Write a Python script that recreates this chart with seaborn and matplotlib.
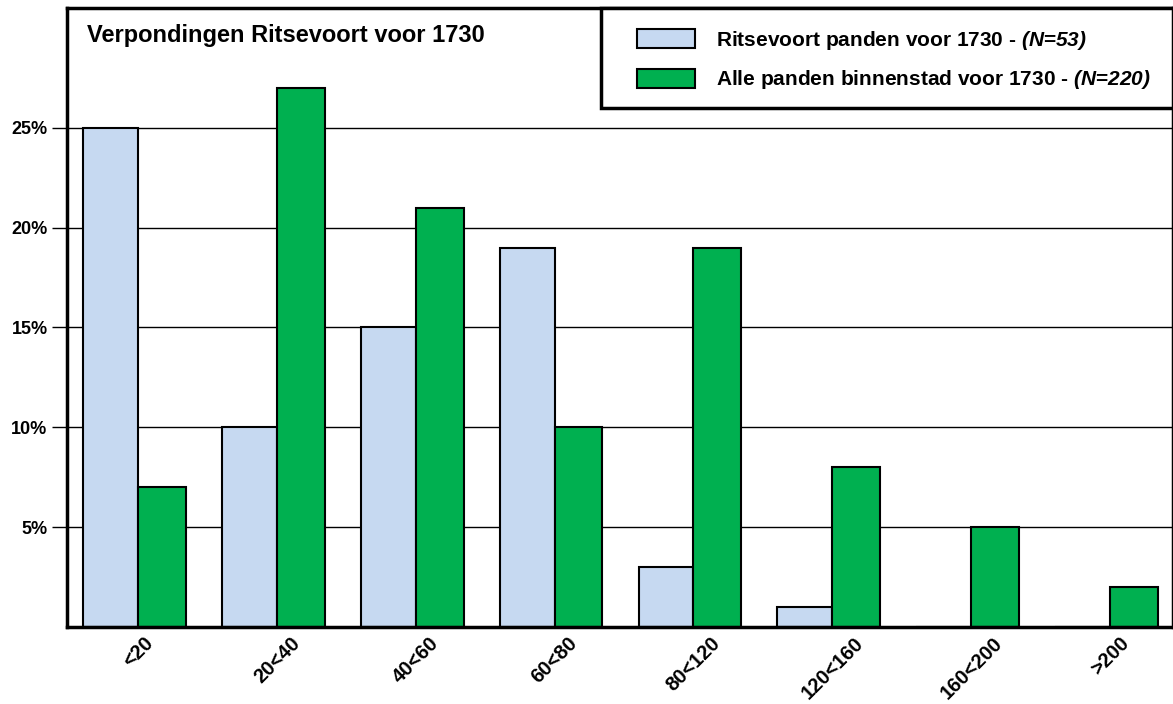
import pandas as pd
import numpy as np
import matplotlib.pyplot as plt
import seaborn as sns
from matplotlib.patches import Patch, Rectangle

# Data (percent of panden per verponding class)
categories = ['<20', '20<40', '40<60', '60<80', '80<120', '120<160', '160<200', '>200']
ritsevoort = [25, 10, 15, 19, 3, 1, 0, 0]
binnenstad = [7, 27, 21, 10, 19, 8, 5, 2]
series_names = ['Ritsevoort panden voor 1730', 'Alle panden binnenstad voor 1730']
legend_labels = [r'Ritsevoort panden voor 1730 - $\mathbfit{(N}$=$\mathbfit{53)}$',
                 r'Alle panden binnenstad voor 1730 - $\mathbfit{(N}$=$\mathbfit{220)}$']
yticks = [5, 10, 15, 20, 25]
colors = ['#c6d9f1', '#00b050']

sns.set_style('white')
plt.rcParams['font.family'] = ['Liberation Sans', 'DejaVu Sans']
plt.rcParams['text.color'] = 'black'
plt.rcParams['xtick.color'] = 'black'
plt.rcParams['ytick.color'] = 'black'
plt.rcParams['mathtext.fontset'] = 'custom'
plt.rcParams['mathtext.rm'] = 'Liberation Sans'
plt.rcParams['mathtext.it'] = 'Liberation Sans:italic'
plt.rcParams['mathtext.bf'] = 'Liberation Sans:bold'
plt.rcParams['mathtext.bfit'] = 'Liberation Sans:italic:bold'

df = pd.DataFrame({
    'category': categories * 2,
    'value': ritsevoort + binnenstad,
    'series': [series_names[0]] * len(categories) + [series_names[1]] * len(categories),
})

fig = plt.figure(figsize=(11.73, 7.04), dpi=100)
ax = fig.add_axes([0.0571, 0.1094, 0.9429, 0.8793])

sns.barplot(data=df, x='category', y='value', hue='series', order=categories,
            hue_order=series_names, palette=colors, saturation=1, edgecolor='black',
            linewidth=1.5, width=0.74, gap=0, legend=False, ax=ax)

# blue bars are a bit wider than the green ones in the original
n = len(categories)
for i, p in enumerate(ax.patches[:2 * n]):
    if i < n:
        p.set_x(p.get_x() - 0.025)
        p.set_width(0.395)
    else:
        p.set_width(0.345)

ax.set_xlim(-0.511, 7.453)
ax.set_ylim(0, 31)
ax.set_yticks(yticks)
ax.set_yticklabels([f'{t}%' for t in yticks], fontweight='bold', fontsize=13)
ax.set_xticks(range(n))
ax.set_xticklabels(categories, rotation=45, ha='center', fontweight='bold', fontsize=14.5)
ax.set_xlabel('')
ax.set_ylabel('')
ax.yaxis.grid(True, color='black', linewidth=1)
ax.set_axisbelow(True)
ax.tick_params(axis='y', which='major', left=True, length=11, width=1, color='black', pad=3)
ax.tick_params(axis='x', which='major', bottom=False, pad=1)
for side in ['left', 'bottom', 'top', 'right']:
    ax.spines[side].set_color('black')
    ax.spines[side].set_linewidth(2.5)

ax.text(0.018, 0.955, 'Verpondingen Ritsevoort voor 1730', transform=ax.transAxes,
        fontsize=17, fontweight='bold', va='center', ha='left')

# legend box with its own frame
fig.patches.append(Rectangle((601 / 1173, 1 - 108 / 704), 1 - 601 / 1173, 100 / 704,
                             transform=fig.transFigure, facecolor='white',
                             edgecolor='black', linewidth=2.5, zorder=3))
handles = [Patch(facecolor=c, edgecolor='black', linewidth=1.5) for c in colors]
leg = fig.legend(handles, legend_labels, loc='center left',
                 bbox_to_anchor=(637 / 1173, 1 - 60 / 704), bbox_transform=fig.transFigure,
                 frameon=False, borderpad=0, borderaxespad=0,
                 prop={'weight': 'bold', 'size': 15}, handlelength=2.78,
                 handleheight=1.0, handletextpad=1.0, labelspacing=0.8)
leg.set_zorder(4)

fig.savefig('out.png', dpi=100)
